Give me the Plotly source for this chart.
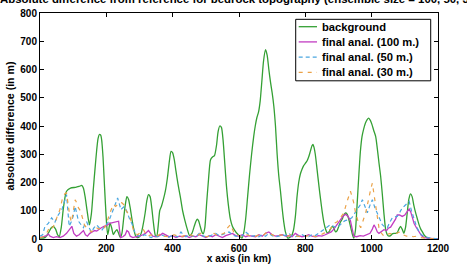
import plotly.graph_objects as go

# ---- data ----
bg_x = [0, 15, 25, 33, 40, 47, 53, 58, 64, 70, 75, 80, 92, 107, 118, 126, 131, 136, 142, 149, 155, 161, 166, 171, 175, 179, 183, 186, 190, 193, 197, 201, 204, 207, 211, 216, 221, 226, 232, 237, 242, 247, 252, 257, 262, 267, 272, 278, 283, 288, 293, 300, 305, 310, 317, 322, 327, 332, 337, 342, 348, 352, 357, 361, 366, 372, 378, 384, 390, 395, 400, 405, 410, 416, 423, 430, 437, 444, 451, 458, 465, 470, 474, 478, 483, 488, 492, 497, 502, 508, 514, 520, 526, 532, 537, 542, 547, 552, 557, 562, 568, 574, 580, 586, 592, 598, 604, 609, 614, 620, 626, 632, 638, 644, 649, 654, 659, 664, 669, 674, 680, 685, 690, 695, 700, 705, 710, 715, 720, 725, 730, 735, 740, 747, 752, 758, 764, 770, 775, 780, 785, 790, 795, 800, 805, 810, 815, 820, 823, 826, 830, 835, 841, 846, 851, 856, 861, 866, 871, 876, 881, 886, 891, 896, 901, 906, 911, 916, 921, 926, 931, 936, 941, 946, 951, 956, 961, 966, 971, 976, 981, 986, 991, 996, 1001, 1006, 1012, 1017, 1022, 1027, 1032, 1037, 1042, 1047, 1052, 1057, 1062, 1067, 1072, 1077, 1082, 1087, 1092, 1097, 1102, 1107, 1112, 1117, 1122, 1127, 1132, 1138, 1143, 1148, 1153, 1158, 1163, 1170, 1180, 1190, 1200]
bg_y = [3, 5, 20, 38, 45, 35, 15, 8, 40, 104, 145, 169, 180, 183, 186, 190, 180, 150, 100, 50, 90, 180, 250, 316, 355, 370, 368, 350, 290, 222, 130, 50, 15, 30, 57, 40, 16, 25, 33, 20, 5, 20, 70, 120, 150, 140, 110, 65, 33, 12, 5, 8, 20, 45, 92, 135, 157, 150, 110, 57, 12, 10, 55, 100, 115, 140, 170, 215, 275, 310, 305, 280, 240, 195, 150, 100, 65, 35, 12, 20, 45, 62, 70, 65, 45, 25, 18, 40, 120, 210, 280, 290, 295, 330, 380, 400, 395, 350, 270, 190, 120, 70, 45, 32, 22, 15, 8, 3, 20, 70, 150, 230, 300, 360, 400, 430, 450, 490, 560, 630, 670, 650, 600, 555, 517, 470, 400, 300, 223, 170, 110, 60, 25, 3, 5, 10, 30, 80, 150, 200, 230, 247, 260, 268, 276, 290, 310, 330, 335, 325, 300, 250, 188, 140, 95, 58, 35, 22, 25, 35, 45, 38, 25, 30, 45, 60, 70, 85, 92, 88, 70, 45, 20, 3, 30, 120, 220, 310, 363, 390, 410, 422, 428, 420, 405, 385, 363, 320, 270, 223, 160, 90, 35, 15, 10, 12, 18, 20, 20, 22, 35, 45, 35, 20, 40, 90, 140, 160, 150, 120, 95, 70, 50, 35, 25, 15, 8, 3, 1, 0, 0]

m100_x = [0, 10, 20, 25, 30, 40, 50, 60, 70, 80, 88, 96, 102, 110, 118, 125, 131, 137, 143, 150, 158, 165, 171, 178, 185, 193, 201, 210, 221, 230, 237, 240, 243, 250, 257, 262, 267, 272, 280, 290, 300, 310, 318, 327, 333, 340, 350, 360, 370, 380, 390, 400, 410, 420, 430, 440, 450, 460, 470, 480, 490, 500, 510, 520, 530, 540, 550, 560, 570, 580, 590, 600, 610, 620, 630, 640, 650, 660, 670, 680, 690, 700, 710, 720, 730, 740, 750, 760, 770, 780, 790, 800, 810, 820, 830, 840, 850, 860, 870, 878, 886, 895, 905, 913, 921, 929, 936, 942, 946, 955, 965, 975, 985, 995, 1002, 1007, 1012, 1017, 1022, 1030, 1037, 1045, 1050, 1057, 1065, 1072, 1077, 1084, 1092, 1100, 1106, 1113, 1118, 1123, 1128, 1135, 1143, 1150, 1158, 1170, 1185, 1200]
m100_y = [5, 8, 12, 18, 10, 5, 8, 5, 10, 20, 35, 45, 20, 10, 15, 25, 30, 15, 10, 20, 25, 30, 28, 35, 40, 45, 48, 55, 59, 62, 63, 30, 5, 8, 15, 30, 25, 10, 5, 8, 10, 15, 20, 30, 20, 10, 8, 12, 20, 15, 8, 12, 5, 10, 8, 12, 5, 10, 8, 15, 10, 5, 12, 8, 15, 10, 5, 12, 15, 20, 12, 10, 15, 8, 12, 10, 8, 15, 10, 20, 25, 15, 10, 12, 15, 10, 12, 8, 20, 12, 8, 10, 15, 10, 8, 12, 10, 15, 20, 25, 35, 50, 65, 80, 88, 80, 65, 35, 10, 8, 12, 10, 15, 20, 35, 50, 40, 25, 20, 28, 33, 30, 38, 42, 55, 70, 85, 85, 80, 85, 95, 106, 95, 75, 55, 40, 22, 12, 5, 2, 1, 0]

m50_x = [0, 8, 15, 25, 35, 45, 55, 66, 73, 80, 84, 88, 94, 100, 106, 111, 116, 124, 131, 136, 141, 148, 155, 163, 171, 178, 186, 195, 201, 206, 213, 221, 228, 234, 239, 244, 249, 254, 261, 267, 272, 277, 282, 287, 295, 305, 315, 325, 335, 345, 355, 365, 375, 385, 395, 405, 415, 425, 432, 440, 450, 460, 470, 480, 490, 500, 510, 520, 530, 540, 550, 560, 570, 580, 590, 600, 610, 620, 630, 640, 650, 660, 670, 680, 690, 700, 710, 720, 730, 740, 750, 760, 770, 780, 790, 800, 810, 820, 830, 840, 850, 856, 865, 875, 885, 895, 906, 913, 920, 931, 940, 948, 957, 965, 972, 980, 987, 995, 1002, 1010, 1017, 1025, 1032, 1040, 1047, 1055, 1062, 1070, 1077, 1085, 1092, 1098, 1105, 1113, 1120, 1128, 1135, 1143, 1150, 1158, 1170, 1185, 1200]
m50_y = [10, 15, 45, 55, 75, 60, 85, 104, 130, 157, 100, 45, 60, 80, 115, 90, 63, 50, 40, 55, 60, 40, 25, 40, 50, 40, 30, 45, 55, 60, 80, 104, 130, 145, 125, 104, 110, 115, 100, 80, 65, 55, 35, 20, 12, 8, 15, 10, 5, 12, 8, 15, 10, 5, 10, 12, 8, 25, 15, 8, 15, 10, 8, 20, 12, 8, 10, 15, 20, 12, 15, 20, 25, 15, 10, 8, 12, 25, 15, 10, 12, 8, 15, 10, 20, 12, 8, 10, 15, 12, 20, 10, 8, 12, 15, 10, 8, 15, 12, 20, 28, 33, 40, 50, 45, 40, 51, 60, 65, 68, 75, 90, 104, 120, 139, 115, 93, 120, 139, 110, 93, 70, 51, 42, 40, 60, 75, 78, 80, 95, 110, 116, 125, 133, 100, 68, 45, 25, 15, 10, 5, 2, 0]

m30_x = [0, 10, 20, 30, 38, 45, 52, 60, 67, 75, 80, 85, 90, 95, 100, 106, 110, 116, 122, 128, 134, 140, 148, 155, 162, 170, 178, 186, 195, 202, 210, 216, 221, 228, 235, 241, 247, 254, 260, 266, 272, 277, 282, 288, 295, 303, 308, 312, 318, 325, 335, 345, 355, 365, 375, 385, 395, 405, 415, 425, 435, 445, 455, 465, 475, 485, 495, 505, 515, 525, 535, 545, 555, 562, 568, 574, 580, 586, 595, 605, 615, 625, 635, 645, 655, 665, 675, 685, 695, 705, 715, 725, 735, 745, 755, 765, 775, 785, 795, 805, 815, 825, 835, 845, 855, 865, 875, 886, 895, 905, 916, 925, 931, 936, 941, 946, 951, 957, 962, 967, 972, 977, 982, 988, 993, 997, 1002, 1007, 1012, 1017, 1022, 1030, 1037, 1045, 1055, 1065, 1075, 1085, 1095, 1105, 1115, 1125, 1135, 1145, 1160, 1180, 1200]
m30_y = [5, 8, 20, 45, 40, 55, 80, 104, 140, 160, 163, 120, 80, 60, 100, 139, 130, 110, 100, 70, 50, 40, 30, 25, 35, 40, 35, 45, 40, 60, 90, 110, 122, 115, 125, 130, 128, 120, 100, 90, 75, 55, 30, 20, 15, 25, 30, 33, 20, 10, 15, 8, 12, 20, 10, 8, 12, 15, 10, 8, 12, 10, 15, 8, 12, 20, 10, 8, 15, 20, 12, 15, 20, 35, 45, 51, 35, 20, 15, 10, 12, 15, 10, 8, 12, 18, 15, 25, 18, 12, 10, 15, 12, 8, 15, 12, 10, 8, 12, 10, 15, 10, 8, 15, 20, 25, 35, 55, 60, 75, 92, 130, 155, 169, 150, 128, 95, 68, 50, 40, 55, 75, 93, 130, 160, 175, 198, 160, 116, 75, 40, 20, 10, 15, 20, 15, 20, 25, 15, 10, 12, 8, 10, 5, 3, 1, 0]

names = ["background", "final anal. (100 m.)", "final anal. (50 m.)", "final anal. (30 m.)"]
x_ticks = [0, 200, 400, 600, 800, 1000, 1200]
y_ticks = [0, 100, 200, 300, 400, 500, 600, 700, 800]
title_text = "Absolute difference from reference for bedrock topography (ensemble size = 100, 50, 30)"

FONT = "Liberation Sans, Arial, sans-serif"
colors = ["#34a034", "#c23cc2", "#4aa6e0", "#eba248"]
dashes = ["solid", "solid", "4px,3px", "4px,5px"]
widths = [1.3, 1.3, 1.2, 1.2]

fig = go.Figure()
series = [(bg_x, bg_y), (m100_x, m100_y), (m50_x, m50_y), (m30_x, m30_y)]
for i, (xs, ys) in enumerate(series):
    line = dict(color=colors[i], width=widths[i], dash=dashes[i])
    if i == 0:
        line.update(shape="spline", smoothing=0.6)
    fig.add_trace(go.Scatter(x=xs, y=ys, name=names[i], mode="lines", line=line,
                             showlegend=False))

tick_font = dict(family=FONT, size=10, color="black", weight="bold")
xlabel_font = dict(family=FONT, size=10.2, color="black", weight="bold")
ylabel_font = dict(family=FONT, size=10.6, color="black", weight="bold")
axis_common = dict(showline=True, linecolor="black", linewidth=1, mirror="ticks",
                   ticks="inside", ticklen=4, tickcolor="black", showgrid=False, zeroline=False,
                   automargin=False, tickfont=tick_font)

fig.update_xaxes(range=[0, 1200], tickvals=x_ticks, ticktext=[str(v) for v in x_ticks],
                 title=dict(text="x axis (in km)", standoff=1, font=xlabel_font),
                 **axis_common)
fig.update_yaxes(range=[0, 800], tickvals=y_ticks, ticktext=[str(v) for v in y_ticks],
                 title=dict(text="absolute difference (in m)", standoff=3, font=ylabel_font),
                 **axis_common)

# title (partly outside the window, as in the reference)
fig.add_annotation(text=title_text, xref="paper", yref="paper", x=0.5, y=1,
                   xanchor="center", yanchor="bottom", yshift=6, showarrow=False,
                   font=dict(family=FONT, size=11.4, color="black", weight="bold"))

# compact legend box (MATLAB style)
lx0, lx1, ly0, ly1 = 0.6425, 0.9817, 0.700, 0.972
fig.add_shape(type="rect", xref="paper", yref="paper", x0=lx0, x1=lx1, y0=ly0, y1=ly1,
              line=dict(color="black", width=1), fillcolor="white", layer="above")
entry_y = [0.9394, 0.8721, 0.8049, 0.7376]
for i in range(4):
    fig.add_shape(type="line", xref="paper", yref="paper", x0=0.650, x1=0.696,
                  y0=entry_y[i], y1=entry_y[i], layer="above",
                  line=dict(color=colors[i], width=widths[i], dash=dashes[i]))
    fig.add_annotation(text=names[i], xref="paper", yref="paper", x=0.704, y=entry_y[i],
                       xanchor="left", yanchor="middle", showarrow=False,
                       font=dict(family=FONT, size=11.2, color="black", weight="bold"))

fig.update_layout(
    width=467, height=264,
    margin=dict(l=40, r=29, t=13, b=25, pad=0),
    paper_bgcolor="white", plot_bgcolor="white",
    showlegend=False,
)

fig.write_html("out.html")
